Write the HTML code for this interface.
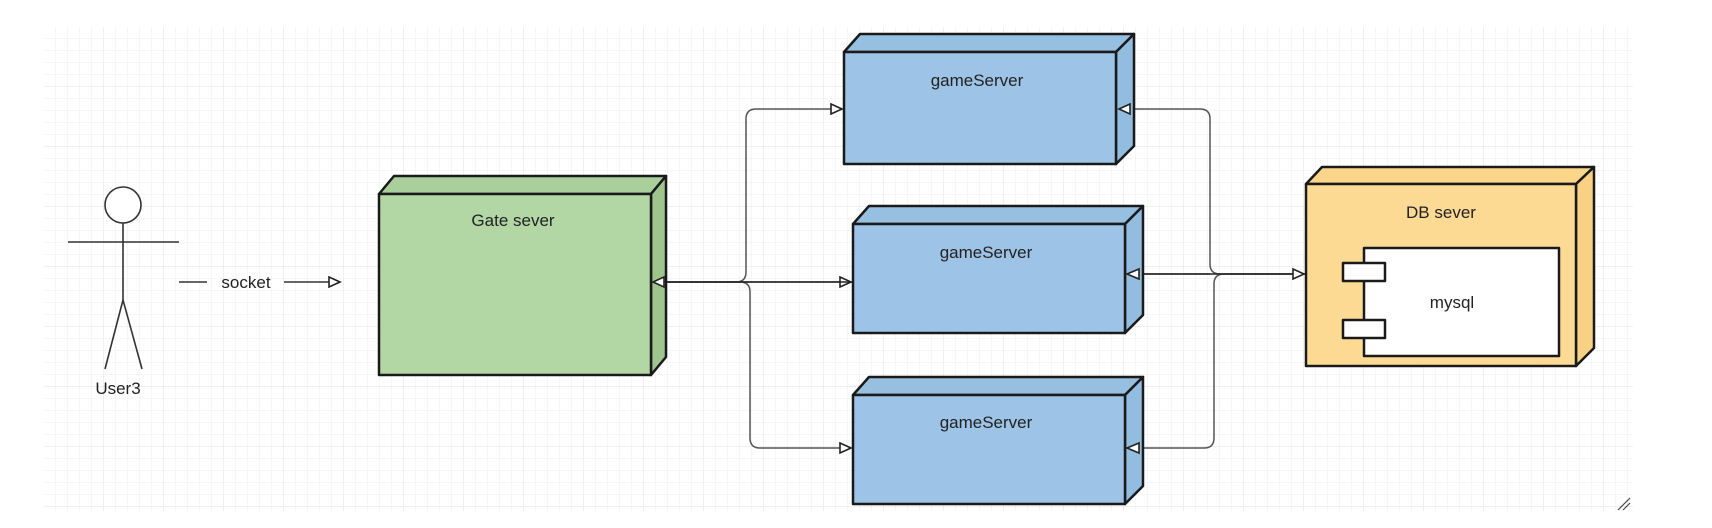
<!DOCTYPE html>
<html><head><meta charset="utf-8"><style>
html,body{margin:0;padding:0;background:#fff;width:1712px;height:528px;overflow:hidden}
svg{display:block}
text{font-family:"Liberation Sans",sans-serif;fill:#222}
</style></head><body>
<svg width="1712" height="528" viewBox="0 0 1712 528">
<defs>
<pattern id="g" width="12" height="12" patternUnits="userSpaceOnUse" x="44" y="27">
<path d="M12 0V12H0" fill="none" stroke="#ececec" stroke-width="1"/>
</pattern>
<pattern id="G" width="60" height="60" patternUnits="userSpaceOnUse" x="44" y="27">
<path d="M60 0V60H0" fill="none" stroke="#e2e2e2" stroke-width="1"/>
</pattern>
<marker id="a" markerWidth="14" markerHeight="12" refX="12" refY="6" orient="auto" markerUnits="userSpaceOnUse">
<path d="M1 1L12 6L1 11Z" fill="#fff" stroke="#222" stroke-width="1.6"/>
</marker>
</defs>
<rect x="44" y="27" width="1589" height="484" fill="url(#g)"/>
<rect x="44" y="27" width="1589" height="484" fill="url(#G)"/>

<!-- actor -->
<g stroke="#333" stroke-width="1.6" fill="none">
<circle cx="123" cy="205" r="18" fill="#fff"/>
<line x1="68" y1="242" x2="179" y2="242"/>
<line x1="123" y1="223" x2="123" y2="300"/>
<line x1="123" y1="300" x2="105" y2="369"/>
<line x1="123" y1="300" x2="142" y2="369"/>
</g>
<text x="118" y="394" font-size="17" text-anchor="middle">User3</text>
<line x1="179" y1="282" x2="207" y2="282" stroke="#333" stroke-width="1.6"/>
<text x="246" y="288" font-size="17" text-anchor="middle">socket</text>
<line x1="284" y1="282" x2="340" y2="282" stroke="#333" stroke-width="1.6" marker-end="url(#a)"/>

<!-- connectors -->
<g fill="none" stroke="#555" stroke-width="1.5">
<path d="M651 282H736Q746 282 746 272V119Q746 109 756 109H842" marker-end="url(#a)"/>
<path d="M651 282H851" marker-end="url(#a)"/>
<path d="M651 282H740Q750 282 750 292V438Q750 448 760 448H851" marker-end="url(#a)"/>
<path d="M1306 274H1220Q1210 274 1210 264V119Q1210 109 1200 109H1118" marker-end="url(#a)"/>
<path d="M1210 274H1127" marker-end="url(#a)"/>
<path d="M1306 274H1224Q1214 274 1214 284V438Q1214 448 1204 448H1127" marker-end="url(#a)"/>
<path d="M1127 274H1304" stroke="#222" marker-end="url(#a)"/>
<path d="M853 282H653" stroke="#222" marker-end="url(#a)"/>
</g>

<!-- gate -->
<g stroke="#1a1a1a" stroke-width="2.5" stroke-linejoin="round">
<path d="M379 194L394 176H666L651 194Z" fill="#a9cf9a"/>
<path d="M651 194L666 176V357L651 375Z" fill="#9fc58f"/>
<rect x="379" y="194" width="272" height="181" fill="#b3d6a5"/>
</g>
<text x="513" y="226" font-size="17" text-anchor="middle">Gate sever</text>

<!-- gameServers -->
<g stroke="#1a1a1a" stroke-width="2.5" stroke-linejoin="round">
<path d="M844 52L860 34H1134L1116 52Z" fill="#96bfe0"/>
<path d="M1116 52L1134 34V146L1116 164Z" fill="#92bde0"/>
<rect x="844" y="52" width="272" height="112" fill="#9dc3e6"/>
<path d="M853 224L869 206H1143L1125 224Z" fill="#96bfe0"/>
<path d="M1125 224L1143 206V315L1125 333Z" fill="#92bde0"/>
<rect x="853" y="224" width="272" height="109" fill="#9dc3e6"/>
<path d="M853 395L869 377H1143L1125 395Z" fill="#96bfe0"/>
<path d="M1125 395L1143 377V486L1125 504Z" fill="#92bde0"/>
<rect x="853" y="395" width="272" height="109" fill="#9dc3e6"/>
</g>
<text x="977" y="86" font-size="17" text-anchor="middle">gameServer</text>
<text x="986" y="258" font-size="17" text-anchor="middle">gameServer</text>
<text x="986" y="428" font-size="17" text-anchor="middle">gameServer</text>
<!-- right-side arrowheads on boxes -->
<g fill="#fff" stroke="#222" stroke-width="1.6">
<path d="M1130 104L1119 109L1130 114Z"/>
<path d="M1139 269L1127 274L1139 279Z"/>
<path d="M1139 443L1127 448L1139 453Z"/>
<path d="M664 277L653 282L664 287Z"/>
</g>

<!-- DB -->
<g stroke="#1a1a1a" stroke-width="2.5" stroke-linejoin="round">
<path d="M1306 184L1322 167H1594L1576 184Z" fill="#fbd68a"/>
<path d="M1576 184L1594 167V348L1576 366Z" fill="#f8d184"/>
<rect x="1306" y="184" width="270" height="182" fill="#fdda94"/>
<rect x="1364" y="248" width="195" height="108" fill="#fff"/>
<rect x="1343" y="263" width="42" height="18" fill="#fff"/>
<rect x="1343" y="320" width="42" height="18" fill="#fff"/>
</g>
<text x="1441" y="218" font-size="17" text-anchor="middle">DB sever</text>
<text x="1452" y="308" font-size="17" text-anchor="middle">mysql</text>
<path d="M1618 510L1630 498M1623 510L1630 503" stroke="#444" stroke-width="1.2"/>
</svg>
</body></html>
